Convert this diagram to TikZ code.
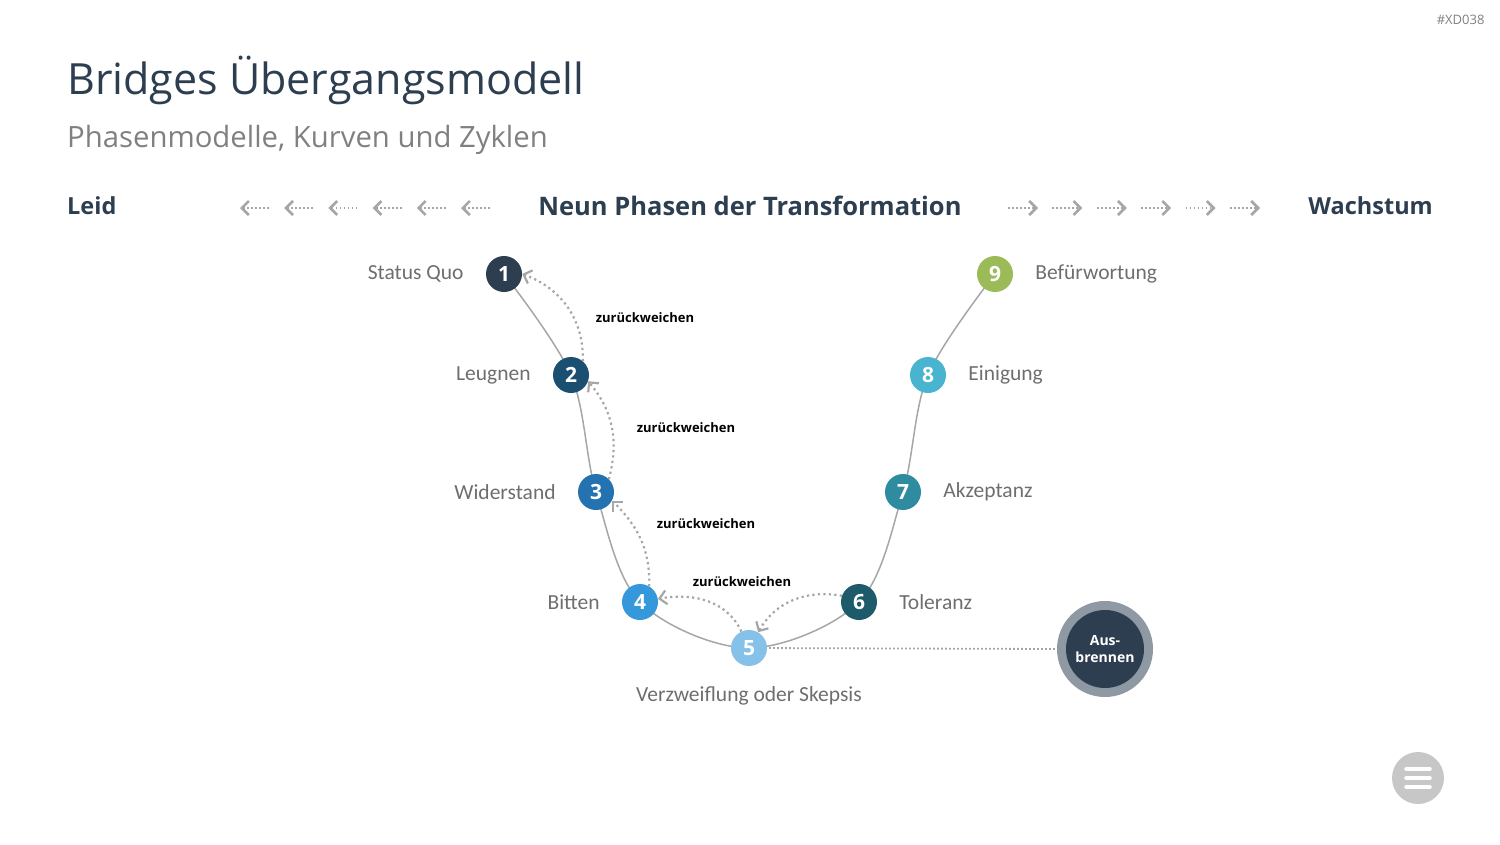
\documentclass[tikz,border=0pt]{standalone}
\usepackage{fontspec}
\setmainfont{Carlito}
\newfontfamily\headfont{Open Sans}
\usetikzlibrary{arrows.meta,positioning}
\definecolor{slate}{HTML}{2C3E50}
\definecolor{ph1}{HTML}{2C3E50}
\definecolor{ph2}{HTML}{1B4F72}
\definecolor{ph3}{HTML}{2473B0}
\definecolor{ph4}{HTML}{3498DB}
\definecolor{ph5}{HTML}{85C1E9}
\definecolor{ph6}{HTML}{1E5B6A}
\definecolor{ph7}{HTML}{2E8BA0}
\definecolor{ph8}{HTML}{48B4D0}
\definecolor{ph9}{HTML}{9BBB59}
\definecolor{labelgray}{HTML}{6E6E6E}
\definecolor{arrowgray}{HTML}{A6A6A6}
\definecolor{ringgray}{HTML}{8E99A4}

\begin{document}
\begin{tikzpicture}[x=1pt,y=-1pt,>={Straight Barb[length=7pt,width=14pt,line width=2.6pt]},
    phase/.style={circle,minimum size=36pt,inner sep=0pt,text=white,font=\headfont\bfseries\fontsize{21}{21}\selectfont},
    lbl/.style={inner sep=0pt,text=labelgray,font=\fontsize{21.5}{24}\selectfont},
    hdr/.style={text=slate,font=\headfont\bfseries\fontsize{25.5}{28}\selectfont},
    back/.style={draw=arrowgray,line width=2.2pt,dash pattern=on 2.2pt off 3.3pt,
        -{Straight Barb[length=7pt,width=14pt,line width=2.2pt]}},
    backlbl/.style={font=\headfont\bfseries\fontsize{13}{15}\selectfont},
    tail/.style={draw=arrowgray,line width=1.8pt,dash pattern=on 1.8pt off 2.2pt}]
\useasboundingbox (0,0) rectangle (1500,844);

\node[anchor=east,text=gray,font=\headfont\fontsize{13}{13}\selectfont] (tag) at (1488,20) {\#XD038};
\node[anchor=base west,inner sep=0pt,text=slate,font=\headfont\fontsize{43}{48}\selectfont] (title) at (67,94) {Bridges Übergangsmodell};
\node[anchor=base west,inner sep=0pt,text=gray,font=\headfont\fontsize{29.3}{33}\selectfont] (subtitle) at (67,147) {Phasenmodelle, Kurven und Zyklen};

\node[hdr,anchor=west,inner sep=0pt,font=\headfont\bfseries\fontsize{23.5}{28}\selectfont] (leid) at (67,206) {Leid};
\node[hdr] (head) at (750,206) {Neun Phasen der Transformation};
\node[hdr,anchor=east,inner sep=0pt,font=\headfont\bfseries\fontsize{23.5}{28}\selectfont] (wachstum) at (1433,206) {Wachstum};
\foreach \x in {240,284.2,...,462} \draw[tail,<-] (\x,208) -- ++(30,0);
\foreach \x in {1008,1052.4,...,1231} \draw[tail,->] (\x,208) -- ++(30,0);

\foreach \i/\x/\y in {1/504/274,2/571/375,3/596/492,4/640/602,5/749/648,6/859/602,7/903/492,8/928/375,9/995/274}
    \coordinate (c\i) at (\x,\y);
\draw[line width=1.5pt,draw=arrowgray] plot[smooth,tension=0.55] coordinates {(c1) (c2) (c3) (c4) (c5) (c6) (c7) (c8) (c9)};

\node[circle,fill=ringgray,minimum size=96pt,inner sep=0pt] (ring) at (1105,649) {};
\node[circle,fill=slate,minimum size=78pt,inner sep=0pt,align=center,text=white,
    font=\headfont\bfseries\fontsize{14}{17}\selectfont] (burn) at (ring) {Aus-\\brennen};
\draw[tail] (c5) -- (ring.west);

\foreach \i in {1,...,9} \node[phase,fill=ph\i] (n\i) at (c\i) {\i};

\node[lbl,left=22pt of n1] (l1) {Status Quo};
\node[lbl,left=22pt of n2] (l2) {Leugnen};
\node[lbl,left=22pt of n3] (l3) {Widerstand};
\node[lbl,left=22pt of n4] (l4) {Bitten};
\node[lbl,below=20pt of n5] (l5) {Verzweiflung oder Skepsis};
\node[lbl,right=22pt of n6] (l6) {Toleranz};
\node[lbl,right=22pt of n7] (l7) {Akzeptanz};
\node[lbl,right=22pt of n8] (l8) {Einigung};
\node[lbl,right=22pt of n9] (l9) {Befürwortung};

\draw[back] (n2.50) to[out=88,in=-20] (n1.east);
\draw[back] (n3.45) to[out=75,in=-50] (n2.-20);
\draw[back] (n4.60) to[out=88,in=-45] (n3.-28);
\draw[back] (n5.115) to[out=115,in=10] (n4.10);
\draw[back] (n6.160) to[out=170,in=60] (n5.60);
\node[backlbl] (w1) at (645,318) {zurückweichen};
\node[backlbl] (w2) at (686,428) {zurückweichen};
\node[backlbl] (w3) at (706,524) {zurückweichen};
\node[backlbl] (w4) at (742,582) {zurückweichen};

\node[circle,fill=black!22,minimum size=52pt,inner sep=0pt] (menu) at (1418,778) {};
\foreach \d in {-9,0,9}
    \draw[white,line width=3.5pt,line cap=round] ([shift={(-12,\d)}]menu.center) -- ++(24,0);
\end{tikzpicture}
\end{document}
